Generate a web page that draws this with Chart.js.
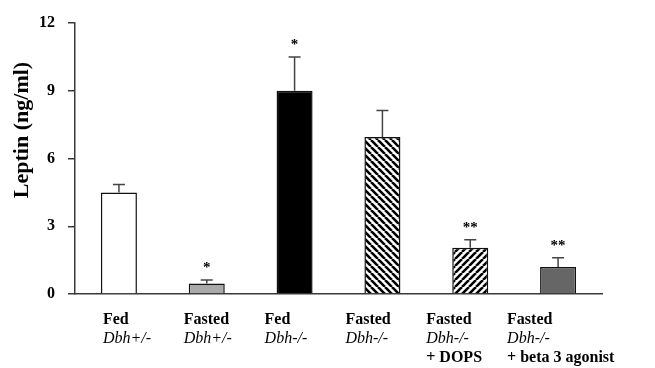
<!DOCTYPE html>
<html>
<head>
<meta charset="utf-8">
<script src="https://cdn.jsdelivr.net/npm/chart.js@4.4.1/dist/chart.umd.min.js"></script>
<style>
  html, body { margin: 0; padding: 0; background: #fff; }
  #wrap { width: 655px; height: 368px; }
</style>
</head>
<body>
<div id="wrap"><canvas id="leptinChart" width="655" height="368"></canvas></div>
<script>
'use strict';

// chart data
const groups = [ 'Fed', 'Fasted', 'Fed', 'Fasted', 'Fasted', 'Fasted' ];
const genotypes = [ 'Dbh+/-', 'Dbh+/-', 'Dbh-/-', 'Dbh-/-', 'Dbh-/-', 'Dbh-/-' ];
const treatments = [ '', '', '', '', '+ DOPS', '+ beta 3 agonist' ];
const leptin = [ 4.5, 0.47, 9.0, 6.95, 2.05, 1.2 ];
const leptinErr = [ 0.35, 0.15, 1.5, 1.18, 0.35, 0.4 ];
const signif = [ '', '*', '*', '', '**', '**' ];
const yTicks = [ 0, 3, 6, 9, 12 ];
const yTitle = 'Leptin (ng/ml)';

const AXIS = '#3a3a3a';
const SERIF = '"Liberation Serif", "Times New Roman", serif';

/**
 * Helper to build a diagonal hatch pattern
 */
function hatch( dir ) {
	let s = 7;
	let c = document.createElement( 'canvas' );
	c.width = s; c.height = s;
	let g = c.getContext( '2d' );
	g.fillStyle = '#fff';
	g.fillRect( 0, 0, s, s );
	g.strokeStyle = '#000';
	g.lineWidth = 2.6;
	g.beginPath();
	for ( let k = -1; k <= 1; k++ ) {
		if ( dir === 'back' ) {
			g.moveTo( k * s, 0 ); g.lineTo( k * s + s, s );
		} else {
			g.moveTo( k * s, s ); g.lineTo( k * s + s, 0 );
		}
	}
	g.stroke();
	return g.createPattern( c, 'repeat' );
}

const ctx = document.getElementById( 'leptinChart' ).getContext( '2d' );
const fills = [ '#ffffff', '#a9a9a9', '#000000', hatch( 'back' ), hatch( 'fwd' ), '#666666' ];

// error bars, stars, labels and title
const extrasPlugin = {
	id: 'extras',
	afterDatasetsDraw( chart ) {
		let c = chart.ctx;
		let y = chart.scales.y;
		let meta = chart.getDatasetMeta( 0 );
		c.save();
		meta.data.forEach( ( bar, i ) => {
			let top = y.getPixelForValue( leptin[ i ] + leptinErr[ i ] );
			c.strokeStyle = '#444';
			c.lineWidth = 1.5;
			c.beginPath();
			c.moveTo( bar.x, bar.y );
			c.lineTo( bar.x, top );
			c.moveTo( bar.x - 6, top );
			c.lineTo( bar.x + 6, top );
			c.stroke();
			if ( signif[ i ] ) {
				c.fillStyle = '#000';
				c.font = 'bold 15px ' + SERIF;
				c.textAlign = 'center';
				c.textBaseline = 'middle';
				c.fillText( signif[ i ], bar.x, top - 12 );
			}
		} );
		c.restore();
	},
	afterDraw( chart ) {
		let c = chart.ctx;
		let x = chart.scales.x;
		c.save();
		c.fillStyle = '#000';
		c.textAlign = 'left';
		c.textBaseline = 'middle';
		groups.forEach( ( g, i ) => {
			let left = x.getPixelForValue( i ) - 16 - 7 * i;
			c.font = 'bold 16px ' + SERIF;
			c.fillText( g, left, 320 );
			c.font = 'italic 16px ' + SERIF;
			c.fillText( genotypes[ i ], left, 339 );
			if ( treatments[ i ] ) {
				c.font = 'bold 16px ' + SERIF;
				c.fillText( treatments[ i ], left, 358 );
			}
		} );
		// y title
		c.translate( 22, 130 );
		c.rotate( -Math.PI / 2 );
		c.textAlign = 'center';
		c.font = 'bold 22px ' + SERIF;
		c.fillText( yTitle, 0, 0 );
		c.restore();
	}
};

new Chart( ctx, {
	type: 'bar',
	data: {
		labels: groups.map( ( g, i ) => g + ' ' + genotypes[ i ] + ' ' + treatments[ i ] ),
		datasets: [ {
			data: leptin,
			backgroundColor: fills,
			borderColor: '#111',
			borderWidth: 1.5,
			borderSkipped: 'bottom',
			barPercentage: 0.41,
			categoryPercentage: 1
		} ]
	},
	options: {
		responsive: false,
		animation: false,
		devicePixelRatio: 1,
		layout: { padding: { top: 23, right: 53, left: 0, bottom: 0 } },
		plugins: {
			legend: { display: false },
			tooltip: { enabled: false }
		},
		scales: {
			x: {
				grid: { display: false },
				border: { display: true, color: AXIS, width: 1.5 },
				ticks: { display: false },
				afterFit: function( scale ) { scale.height = 74; }
			},
			y: {
				min: 0,
				max: 12,
				afterBuildTicks: function( scale ) {
					scale.ticks = yTicks.map( v => ( { value: v } ) );
				},
				grid: { drawOnChartArea: false, drawTicks: true, tickLength: 7, color: AXIS, lineWidth: 1.5 },
				border: { display: true, color: AXIS, width: 1.5 },
				ticks: {
					color: '#000',
					padding: 13,
					font: { family: SERIF, size: 16, weight: 'bold' }
				},
				afterFit: function( scale ) { scale.width = 75; }
			}
		}
	},
	plugins: [ extrasPlugin ]
} );
</script>
</body>
</html>
